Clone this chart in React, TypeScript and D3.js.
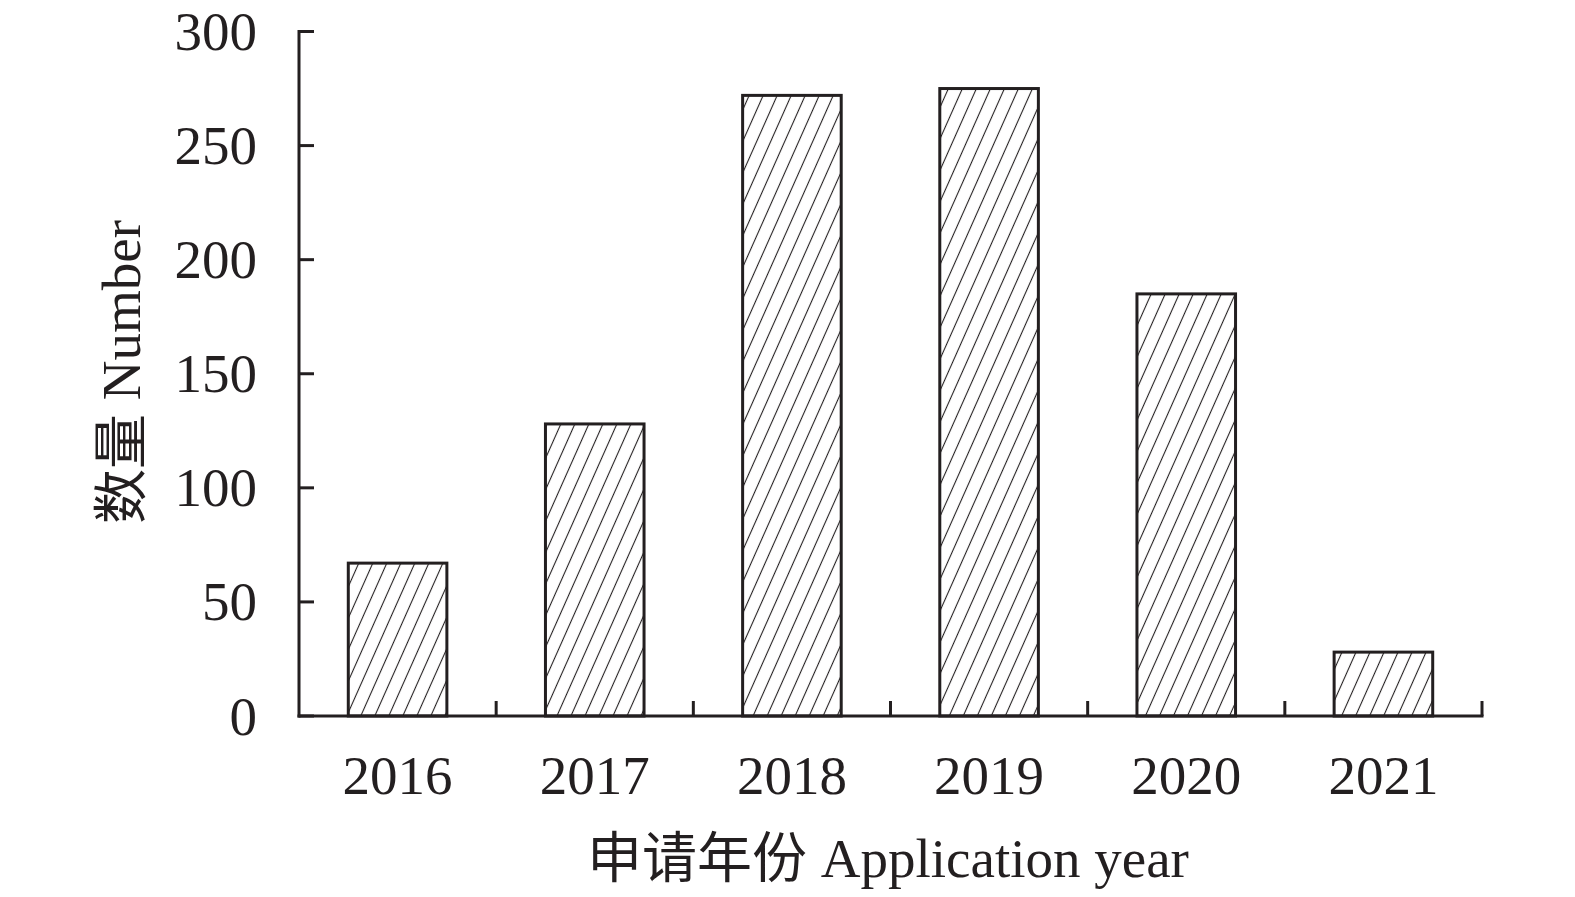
import React from "react";
import * as d3 from "d3";

const categories = ["2016", "2017", "2018", "2019", "2020", "2021"];
const values = [67, 128, 272, 275, 185, 28];
const yTicks = [0, 50, 100, 150, 200, 250, 300];
const xTitle = "申请年份 Application year";
const yTitle = "数量 Number";

const W = 1575;
const H = 897;
const margin = { left: 299, right: 93, top: 31.5, bottom: 181 };
const FONT = "'Liberation Serif', 'Times New Roman', 'Noto Sans CJK SC', serif";
const INK = "#231f20";
const FS = 55;

export default function App() {
  const x = d3
    .scaleBand<string>()
    .domain(categories)
    .range([margin.left, W - margin.right])
    .paddingInner(0.5)
    .paddingOuter(0.25);
  const y = d3.scaleLinear().domain([0, 300]).range([H - margin.bottom, margin.top]);
  const step = x.step();
  const boundaries = categories.map((_, i) => margin.left + step * (i + 1));
  const y0 = y(0);

  return (
    <svg width={W} height={H} style={{ display: "block", position: "absolute", left: 0, top: 0 }}>
      <defs>
        <pattern
          id="hatch"
          patternUnits="userSpaceOnUse"
          width={12.8}
          height={20}
          patternTransform="rotate(24)"
        >
          <line x1={6.4} y1={0} x2={6.4} y2={20} stroke={INK} strokeWidth={1.1} />
        </pattern>
      </defs>
      <rect width={W} height={H} fill="#fff" />
      {categories.map((c, i) => (
        <rect
          key={c}
          x={x(c)}
          y={y(values[i])}
          width={x.bandwidth()}
          height={y0 - y(values[i])}
          fill="url(#hatch)"
          stroke={INK}
          strokeWidth={3}
        />
      ))}
      {/* y axis */}
      <line x1={margin.left} y1={margin.top - 1.5} x2={margin.left} y2={y0 + 1.5} stroke={INK} strokeWidth={3} />
      {yTicks.map((t) => (
        <g key={t}>
          <line x1={margin.left} x2={margin.left + 15} y1={y(t)} y2={y(t)} stroke={INK} strokeWidth={3} />
          <text
            x={257}
            y={y(t)}
            textAnchor="end"
            dominantBaseline="central"
            fontFamily={FONT}
            fontSize={FS}
            fill={INK}
          >
            {t}
          </text>
        </g>
      ))}
      {/* x axis */}
      <line x1={margin.left - 1.5} y1={y0} x2={W - margin.right + 1.5} y2={y0} stroke={INK} strokeWidth={3} />
      {boundaries.map((b, i) => (
        <line key={i} x1={b} x2={b} y1={y0} y2={y0 - 15} stroke={INK} strokeWidth={3} />
      ))}
      {categories.map((c) => (
        <text
          key={c}
          x={(x(c) as number) + x.bandwidth() / 2}
          y={794}
          textAnchor="middle"
          fontFamily={FONT}
          fontSize={FS}
          fill={INK}
        >
          {c}
        </text>
      ))}
      <text x={888} y={877} textAnchor="middle" fontFamily={FONT} fontSize={FS} fill={INK}>
        {xTitle}
      </text>
      <text
        transform={`translate(140, 372) rotate(-90)`}
        textAnchor="middle"
        fontFamily={FONT}
        fontSize={FS}
        fill={INK}
      >
        {yTitle}
      </text>
    </svg>
  );
}
